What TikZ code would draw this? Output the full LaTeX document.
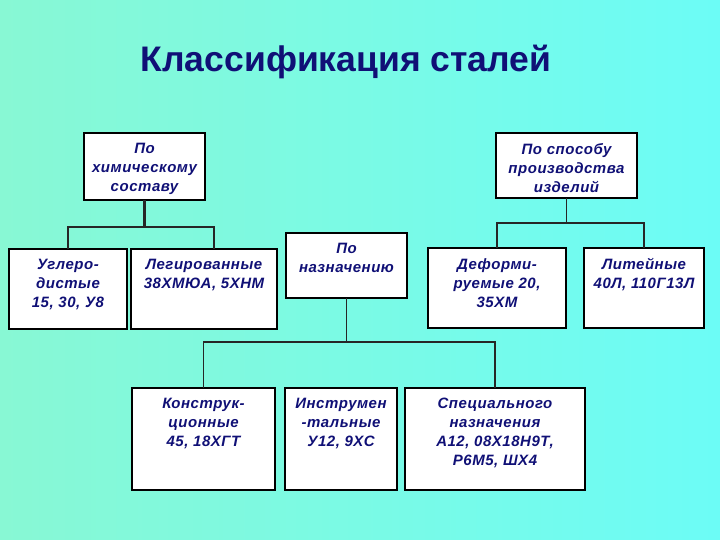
\documentclass[tikz,border=0pt]{standalone}
\usepackage{fontspec}
\setmainfont{Liberation Sans}
\newfontfamily\boxfont[LetterSpace=3.5]{Liberation Sans}
\newfontfamily\titlefont{Liberation Sans}
\definecolor{navy}{RGB}{16,16,118}
\definecolor{bgmint}{RGB}{136,248,212}
\definecolor{bgcyan}{RGB}{108,252,246}
\newcommand\cellbox[3]{\parbox[c][#2pt][t]{#1pt}{\centering\vspace*{10.5pt}#3\par}}
\tikzset{
  cell/.style={draw=black, line width=1.6pt, fill=white, inner sep=0pt, outer sep=0pt,
    anchor=north west, font=\boxfont\bfseries\itshape\fontsize{15}{19}\selectfont, text=navy},
  thinconn/.style={draw=black!85, line width=1.1pt},
  thickconn/.style={draw=black!85, line width=2.4pt}
}
\begin{document}
\begin{tikzpicture}[x=1pt,y=-1pt]
\useasboundingbox (0,0) rectangle (720,540);
\shade[left color=bgmint, right color=bgcyan] (0,0) rectangle (720,540);
\node[font=\titlefont\bfseries\fontsize{35.5}{40}\selectfont, text=navy, anchor=base] (title) at (346,72) {Классификация сталей};
% level 1
\node[cell] (chem) at (84,133) {\cellbox{121}{67}{По\\химическому\\составу}};
\node[cell] (meth) at (496,133) {\cellbox{141}{65}{По способу\\производства\\изделий}};
% level 2
\node[cell] (ugl) at (9,249) {\cellbox{118}{80}{Углеро-\\дистые\\15, 30, У8}};
\node[cell] (leg) at (131,249) {\cellbox{146}{80}{Легированные\\38ХМЮА, 5ХНМ}};
\node[cell] (nazn) at (286,233) {\cellbox{121}{65}{По\\назначению}};
\node[cell] (def) at (428,248) {\cellbox{138}{80}{Деформи-\\руемые 20,\\35ХМ}};
\node[cell] (lit) at (584,248) {\cellbox{120}{80}{Литейные\\40Л, 110Г13Л}};
% level 3
\node[cell] (kon) at (132,388) {\cellbox{143}{102}{Конструк-\\ционные\\45, 18ХГТ}};
\node[cell] (ins) at (285,388) {\cellbox{112}{102}{Инструмен\\-тальные\\У12, 9ХС}};
\node[cell] (spec) at (405,388) {\cellbox{180}{102}{Специального\\назначения\\А12, 08Х18Н9Т,\\Р6М5, ШХ4}};
% connectors
\coordinate (j1) at (144.5,227);
\draw[thickconn] (chem.south) -- (j1);
\draw[thickconn] (ugl.north) |- (j1) -| ([xshift=10pt]leg.north);
\coordinate (j2) at (566.5,223);
\draw[thinconn] (meth.south) -- (j2);
\draw[thinconn] (def.north) |- (j2) -| (lit.north);
\coordinate (j3) at (346.5,342);
\draw[thinconn] (nazn.south) -- (j3);
\draw[thinconn] (kon.north) |- (j3) -| (spec.north);
\end{tikzpicture}
\end{document}
